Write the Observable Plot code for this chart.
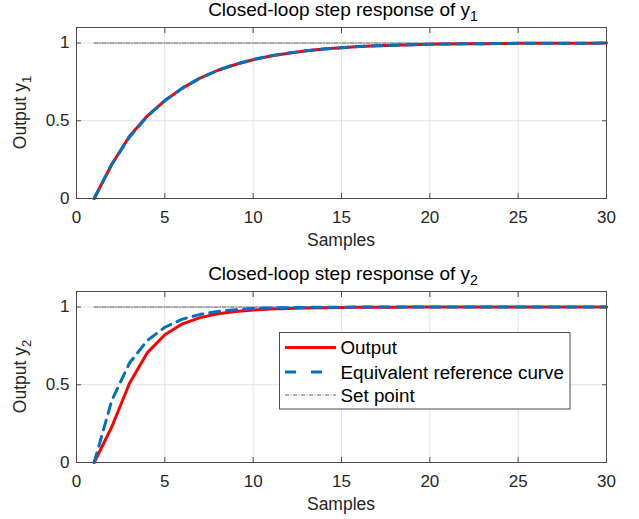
<!DOCTYPE html>
<html>
<head>
<meta charset="utf-8">
<script src="https://cdn.jsdelivr.net/npm/d3@7"></script>
<script src="https://cdn.jsdelivr.net/npm/@observablehq/plot@0.6"></script>
<style>
  html, body { margin: 0; padding: 0; background: #fff; }
  #chart svg { display: block; }
</style>
</head>
<body>
<div id="chart"></div>
<script>
const samples = [1,2,3,4,5,6,7,8,9,10,11,12,13,14,15,16,17,18,19,20,21,22,23,24,25,26,27,28,29,30];
const y1Output = [0,0.22,0.40,0.53,0.63,0.71,0.775,0.825,0.862,0.893,0.917,0.935,0.95,0.961,0.97,0.977,0.982,0.986,0.989,0.992,0.994,0.995,0.996,0.997,0.998,0.998,0.999,0.999,0.999,1.0];
const y1Reference = [0,0.22,0.395,0.527,0.63,0.711,0.775,0.825,0.864,0.894,0.918,0.936,0.95,0.961,0.97,0.977,0.982,0.986,0.989,0.992,0.994,0.995,0.996,0.997,0.998,0.998,0.999,0.999,0.999,1.0];
const y2Output = [0,0.23,0.51,0.705,0.822,0.892,0.932,0.957,0.972,0.981,0.987,0.991,0.994,0.996,0.997,0.998,0.999,0.999,1,1,1,1,1,1,1,1,1,1,1,1];
const y2Reference = [0,0.40,0.64,0.784,0.87,0.922,0.953,0.972,0.983,0.99,0.994,0.996,0.998,0.999,0.999,1,1,1,1,1,1,1,1,1,1,1,1,1,1,1];
const setPoint = [1,1,1,1,1,1,1,1,1,1,1,1,1,1,1,1,1,1,1,1,1,1,1,1,1,1,1,1,1,1];
const xTicks = [0,5,10,15,20,25,30];
const yTicks = [0,0.5,1];
const yTickLabels = ["0","0.5","1"];
const titles = [["Closed-loop step response of y","1"],["Closed-loop step response of y","2"]];
const yLabels = [["Output y","1"],["Output y","2"]];
const xLabel = "Samples";
const legendLabels = ["Output","Equivalent reference curve","Set point"];

const FONT = "'Liberation Sans', Arial, Helvetica, sans-serif";
const RED = "#ff0000", BLUE = "#0072bd", SET = "#1a1a1a";
const W = 639;

function panel(yOut, yRef, opts) {
  const rows = samples.map((s,i) => ({s, out: yOut[i], ref: yRef[i], sp: setPoint[i]}));
  const p = Plot.plot({
    width: W, height: opts.height,
    marginLeft: 76, marginRight: 33, marginTop: opts.mt, marginBottom: opts.mb,
    style: {fontFamily: FONT, fontSize: "17px", color: "#262626", background: "#fff"},
    x: {domain: [0,30]},
    y: {domain: [0,1.1]},
    marks: [
      Plot.gridX(xTicks, {stroke: "#e3e3e3", strokeOpacity: 1}),
      Plot.gridY(yTicks, {stroke: "#e3e3e3", strokeOpacity: 1}),
      Plot.line(rows, {x: "s", y: "sp", stroke: SET, strokeWidth: 0.7, strokeDasharray: "4,1.5,1,1.5"}),
      Plot.line(rows, {x: "s", y: "out", stroke: RED, strokeWidth: 3}),
      Plot.line(rows, {x: "s", y: "ref", stroke: BLUE, strokeWidth: 3, strokeDasharray: "10,7"}),
      Plot.frame({stroke: "#4d4d4d", strokeWidth: 1}),
      Plot.axisX(xTicks, {anchor: "bottom", tickSize: -5, tickPadding: 17, label: null, stroke: "#4d4d4d", fill: "#262626"}),
      Plot.axisX(xTicks, {anchor: "top", tickSize: -5, tickFormat: () => "", label: null, stroke: "#4d4d4d"}),
      Plot.axisY(yTicks, {anchor: "left", tickSize: -5, tickPadding: 12, label: null, tickFormat: (d,i) => yTickLabels[i], stroke: "#4d4d4d", fill: "#262626"}),
      Plot.axisY(yTicks, {anchor: "right", tickSize: -5, tickFormat: () => "", label: null, stroke: "#4d4d4d"})
    ]
  });
  const svg = d3.select(p);
  const cx = (76 + (W - 33)) / 2;
  const plotTop = opts.mt, plotBottom = opts.height - opts.mb;
  // title
  const t = svg.append("text").attr("x", cx + 2).attr("y", opts.mt - 11).attr("text-anchor", "middle")
    .attr("font-size", 19).attr("fill", "#000").attr("font-family", FONT);
  t.append("tspan").text(opts.title[0]);
  t.append("tspan").attr("dy", 5).attr("font-size", 14).text(opts.title[1]);
  // x label
  svg.append("text").attr("x", cx).attr("y", plotBottom + 48).attr("text-anchor", "middle")
    .attr("font-size", 17.5).attr("fill", "#262626").attr("font-family", FONT).text(xLabel);
  // y label
  const cy = (plotTop + plotBottom) / 2;
  const yl = svg.append("text").attr("transform", `translate(26,${cy}) rotate(-90)`).attr("text-anchor", "middle")
    .attr("font-size", 17.5).attr("fill", "#262626").attr("font-family", FONT);
  yl.append("tspan").text(opts.ylab[0]);
  yl.append("tspan").attr("dy", 5).attr("font-size", 13).text(opts.ylab[1]);
  if (opts.legend) {
    const lg = svg.append("g").attr("transform", `translate(279.5,${332.5 - 260})`);
    lg.append("rect").attr("width", 290.5).attr("height", 76.5).attr("fill", "#fff").attr("stroke", "#4d4d4d").attr("stroke-width", 1);
    const styles = [
      {stroke: RED, w: 3, dash: null},
      {stroke: BLUE, w: 3, dash: "11,15"},
      {stroke: SET, w: 0.7, dash: "4,1.5,1,1.5"}
    ];
    const rowsY = [15, 39.5, 62.5];
    legendLabels.forEach((lab, i) => {
      const ln = lg.append("line").attr("x1", 5.5).attr("x2", 56.5).attr("y1", rowsY[i]).attr("y2", rowsY[i])
        .attr("stroke", styles[i].stroke).attr("stroke-width", styles[i].w);
      if (styles[i].dash) ln.attr("stroke-dasharray", styles[i].dash);
      lg.append("text").attr("x", 61).attr("y", rowsY[i]).attr("dy", "0.35em").attr("font-size", 18.8)
        .attr("text-anchor", "start").attr("fill", "#000").attr("font-family", FONT).text(lab);
    });
  }
  return p;
}

const root = document.getElementById("chart");
root.appendChild(panel(y1Output, y1Reference, {height: 260, mt: 27, mb: 62, title: titles[0], ylab: yLabels[0]}));
root.appendChild(panel(y2Output, y2Reference, {height: 259, mt: 31, mb: 57, title: titles[1], ylab: yLabels[1], legend: true}));
</script>
</body>
</html>
